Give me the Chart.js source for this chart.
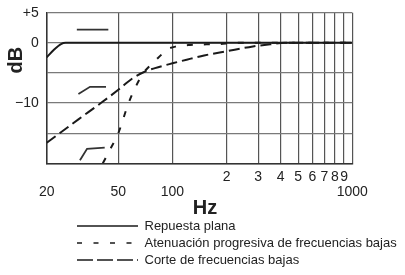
<!DOCTYPE html>
<html>
<head>
<meta charset="utf-8">
<script src="https://cdn.jsdelivr.net/npm/chart.js@4"></script>
<style>
  body { margin: 0; background: #fff; }
  #wrap { width: 405px; height: 275px; }
</style>
</head>
<body>
<div id="wrap"><canvas id="respChart"></canvas></div>
<script>
// curvas (Hz, dB)
const flatHz = [20, 22, 24, 25.5, 1000]
const flatDb = [-2.4, -1.1, -0.2, 0, 0]

// curva empinada (trazo corto)
const steepHz = [41, 45, 50, 57, 62, 69, 75, 80, 88, 95, 105, 125, 180, 230, 1000]
const steepDb = [-20, -17.7, -15, -10, -7.5, -5, -3.8, -3, -1.8, -1.0, -0.6, -0.35, -0.2, 0, 0]

// curva suave (trazo largo)
const gentleHz = [20, 30, 40, 50, 60, 70, 80, 100, 120, 150, 200, 280, 350, 420, 1000]
const gentleDb = [-16.6, -12.7, -10, -7.8, -5.9, -4.8, -4.2, -3.4, -2.8, -2.1, -1.4, -0.6, -0.25, 0, 0]

// iconos del conmutador dentro del grafico
const iconFlatHz = [29.4, 44]
const iconFlatDb = [2.2, 2.2]
const iconGentleHz = [30, 34.8, 42.7]
const iconGentleDb = [-8.5, -7.3, -7.3]
const iconSteepHz = [30.6, 33.5, 42]
const iconSteepDb = [-19.5, -17.6, -17.4]

const xTicks = [20, 50, 100, 200, 300, 400, 500, 600, 700, 800, 900, 1000]
const xTopLabels = ['', '', '', '2', '3', '4', '5', '6', '7', '8', '9', '']
const xBottomLabels = ['20', '50', '100', '', '', '', '', '', '', '', '', '1000']
const yGrid = [-20, -15, -10, -5, 0, 5]
const yTicks = [5, 0, -10]
const yLabels = ['+5', '0', '−10']

const names = ['Repuesta plana', 'Atenuación progresiva de frecuencias bajas', 'Corte de frecuencias bajas']

const toPoints = (xs, ys) => xs.map((x, i) => ({ x: x, y: ys[i] }))

const ink = '#1a1a1a'
const font = 'Liberation Sans, Arial, Helvetica, sans-serif'
const legendDash = [[], [5, 11.5], [16, 4]]

const curve = (label, pts, dash) => ({
    label: label,
    data: pts,
    borderColor: ink,
    borderWidth: 2,
    borderDash: dash,
    pointRadius: 0,
    fill: false,
    tension: 0.4,
    cubicInterpolationMode: 'monotone',
})

const icon = (pts) => ({
    label: 'icon',
    data: pts,
    borderColor: '#333',
    borderWidth: 1.8,
    pointRadius: 0,
    fill: false,
    tension: 0,
})

// la leyenda empieza bajo el grafico, no en el borde (y no se recorta)
const legendShift = {
    id: 'legendShift',
    afterLayout(chart) {
        chart.legend.left = 73
        chart.legend.right = 405
    }
}

new Chart(
    document.getElementById('respChart'),
    {
      type: 'line',
      plugins: [legendShift],
      data: {
        datasets: [
          curve(names[0], toPoints(flatHz, flatDb), []),
          curve(names[1], toPoints(steepHz, steepDb), [6, 11]),
          curve(names[2], toPoints(gentleHz, gentleDb), [11, 5]),
          icon(toPoints(iconFlatHz, iconFlatDb)),
          icon(toPoints(iconGentleHz, iconGentleDb)),
          icon(toPoints(iconSteepHz, iconSteepDb)),
        ]
      },
      options: {
        animation: false,
        responsive: true,
        maintainAspectRatio: false,
        layout: { padding: { left: 0, right: 52.7, top: 12.7, bottom: -1.5 } },
        scales: {
          x: {
            type: 'logarithmic',
            min: 20,
            max: 1000,
            afterBuildTicks: (scale) => {
              scale.ticks = xTicks.map(v => ({ value: v }))
            },
            ticks: {
              autoSkip: false,
              maxRotation: 0,
              padding: 6,
              color: '#222',
              font: { family: font, size: 14, lineHeight: 1.1 },
              callback: (value) => {
                const i = xTicks.indexOf(value)
                return i < 0 ? '' : [xTopLabels[i], xBottomLabels[i]]
              }
            },
            grid: { color: '#555', lineWidth: 1.2, drawTicks: false },
            border: { color: '#333', width: 1.5 },
            title: {
              display: true,
              text: '  Hz',
              color: '#222',
              font: { family: font, size: 20, weight: 'bold', lineHeight: 1 },
              padding: { top: -8.1, bottom: -2.5 }
            }
          },
          y: {
            min: -20,
            max: 5,
            afterBuildTicks: (scale) => {
              scale.ticks = yGrid.map(v => ({ value: v }))
            },
            ticks: {
              padding: 8,
              color: '#222',
              font: { family: font, size: 14, lineHeight: 0.67 },
              callback: (value) => {
                const i = yTicks.indexOf(value)
                return i < 0 ? '' : yLabels[i]
              }
            },
            grid: { color: '#7a7a7a', lineWidth: 1.2, drawTicks: false },
            border: { color: '#333', width: 1.5 },
            title: {
              display: true,
              text: '          dB',
              color: '#222',
              font: { family: font, size: 20, weight: 'bold', lineHeight: 1.2 },
              padding: { top: 4, bottom: -21 }
            }
          }
        },
        plugins: {
          legend: {
            display: true,
            position: 'bottom',
            align: 'start',
            labels: {
              usePointStyle: true,
              pointStyleWidth: 61,
              boxHeight: 13,
              padding: 4,
              color: '#222',
              font: { family: font, size: 13 },
              generateLabels: () => names.map((n, i) => ({
                text: n,
                fillStyle: 'transparent',
                strokeStyle: ink,
                lineWidth: 1.5,
                lineDash: legendDash[i],
                pointStyle: 'line',
                fontColor: '#222',
                hidden: false,
                datasetIndex: i,
              }))
            }
          },
          tooltip: { enabled: false }
        }
      }
    }
  );
</script>
</body>
</html>
